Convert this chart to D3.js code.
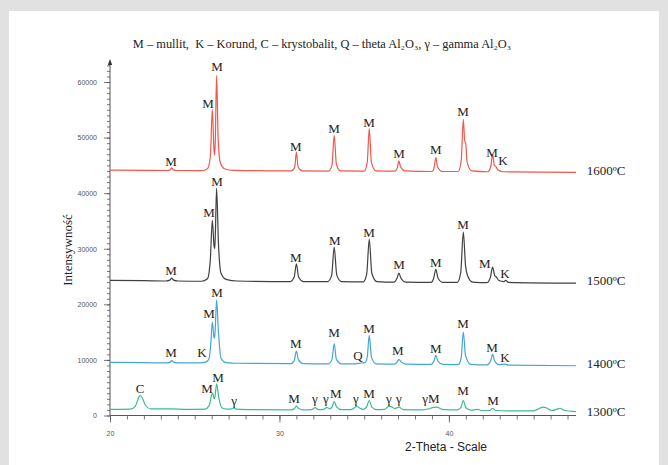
<!DOCTYPE html>
<html>
<head>
<meta charset="utf-8">
<script src="https://cdn.jsdelivr.net/npm/d3@7"></script>
<style>
  html, body { margin: 0; padding: 0; background: #e1e1e1; }
  svg { display: block; }
</style>
</head>
<body>
<svg id="chart" width="668" height="465"></svg>
<script>
// ---------- DATA ----------
const seriesNames = ["1600ºC", "1500ºC", "1400ºC", "1300ºC"];

// [2-theta, intensity]
const series1600 = [
  [20.0,44150],[22.0,44100],[23.35,44080],[23.55,44200],[23.64,44550],[23.73,44200],[23.95,44080],
  [25.4,44050],[25.75,44400],[25.92,46500],[26.04,55100],[26.13,48000],[26.17,46800],[26.21,49000],
  [26.29,61200],[26.38,50000],[26.5,45600],[26.75,44400],[27.3,44100],[30.7,44000],[30.9,44700],
  [31.0,47400],[31.1,44700],[31.35,44000],[32.9,43980],[33.1,45000],[33.23,50400],[33.36,45200],
  [33.6,44000],[35.0,43980],[35.18,45500],[35.3,51600],[35.43,45500],[35.7,44000],[36.8,43950],
  [36.96,44600],[37.05,45800],[37.15,44700],[37.4,44000],[39.0,43900],[39.13,44700],[39.23,46400],
  [39.33,44700],[39.6,43900],[40.55,43900],[40.73,46000],[40.85,53300],[40.93,49500],[40.99,49000],
  [41.08,45500],[41.35,44000],[42.3,43850],[42.47,44800],[42.58,47000],[42.68,45000],[42.77,44800],
  [42.88,44200],[43.2,43850],[47.5,43750]
];
const series1500 = [
  [20.0,24300],[22.0,24250],[23.3,24200],[23.53,24350],[23.64,24700],[23.75,24350],[24.0,24200],
  [25.4,24150],[25.75,24600],[25.92,28000],[26.04,35100],[26.14,30500],[26.18,30000],[26.22,33000],
  [26.29,40900],[26.4,31000],[26.55,25600],[26.85,24500],[27.5,24200],[30.65,24100],[30.87,24900],
  [31.0,27300],[31.13,24900],[31.4,24100],[32.85,24100],[33.08,25200],[33.23,30300],[33.38,25300],
  [33.65,24100],[34.95,24050],[35.15,25500],[35.3,31700],[35.45,25600],[35.75,24100],[36.75,24000],
  [36.94,24700],[37.05,25600],[37.17,24700],[37.45,24000],[38.95,23950],[39.1,24700],[39.23,26300],
  [39.36,24700],[39.65,23950],[40.5,23950],[40.7,25800],[40.85,33000],[40.98,27000],[41.1,25200],
  [41.4,24000],[42.25,23900],[42.45,24900],[42.58,26700],[42.7,25200],[42.8,24900],[42.95,24300],
  [43.25,24100],[43.36,24300],[43.5,23950],[47.5,23800]
];
const series1400 = [
  [20.0,9550],[22.0,9500],[23.35,9450],[23.55,9600],[23.64,9900],[23.75,9600],[24.0,9450],
  [25.3,9450],[25.7,9700],[25.85,10300],[25.95,13000],[26.04,16800],[26.13,14200],[26.17,13900],
  [26.21,15500],[26.29,20800],[26.4,15000],[26.55,10300],[26.85,9500],[27.5,9400],[30.7,9350],
  [30.88,10000],[31.0,11600],[31.12,10000],[31.4,9350],[32.9,9300],[33.1,10100],[33.23,12900],
  [33.36,10100],[33.65,9300],[34.5,9300],[34.8,9450],[35.05,9500],[35.18,10500],[35.3,14400],
  [35.43,10500],[35.7,9300],[36.8,9250],[36.96,9700],[37.05,10100],[37.17,9700],[37.45,9250],
  [38.95,9200],[39.12,9800],[39.23,10800],[39.35,9800],[39.65,9200],[40.55,9150],[40.72,10300],
  [40.85,15000],[40.98,10800],[41.3,9200],[42.25,9100],[42.46,9800],[42.58,11000],[42.7,9800],
  [42.95,9150],[43.3,9250],[43.5,9050],[47.5,8950]
];
const series1300 = [
  [20.0,1100],[21.2,1150],[21.5,1700],[21.7,3300],[21.77,3600],[21.9,3200],[22.1,1800],[22.4,1200],
  [23.6,1200],[24.5,1100],[25.6,1150],[25.85,1800],[26.0,3700],[26.06,4000],[26.15,3000],[26.2,3500],
  [26.29,5700],[26.42,3200],[26.6,1400],[26.9,1150],[27.2,1200],[27.3,1350],[27.45,1150],[28.5,1050],
  [30.7,1000],[30.9,1300],[31.0,1750],[31.12,1300],[31.4,1000],[31.9,1050],[32.1,1400],[32.3,1050],
  [32.6,1100],[32.8,1450],[32.95,1200],[33.1,1500],[33.23,2500],[33.38,1500],[33.65,1050],[34.2,1050],
  [34.45,1450],[34.55,1650],[34.7,1400],[34.95,1100],[35.15,1600],[35.3,2700],[35.45,1500],[35.75,1050],
  [36.2,1100],[36.45,1650],[36.6,1600],[36.8,1250],[37.05,1500],[37.3,1050],[38.4,1000],[38.8,1200],
  [39.1,1450],[39.3,1500],[39.6,1100],[40.5,1000],[40.7,1400],[40.85,2700],[41.0,1400],[41.3,950],
  [41.7,1100],[41.95,900],[42.4,900],[42.58,1300],[42.75,900],[43.5,850],[45.0,850],[45.35,1300],
  [45.55,1500],[45.8,1300],[46.05,900],[46.35,1100],[46.55,1300],[46.8,950],[47.5,700]
];

// Phase labels: [text, 2-theta, intensity of text baseline]
const labels1600 = [
  ["M",23.6,44900],["M",25.78,55300],["M",26.31,62000],["M",30.97,47600],["M",33.22,50800],
  ["M",35.28,51900],["M",37.05,46300],["M",39.23,47000],["M",40.83,53900],["M",42.54,46500],["K",43.19,45000]
];
const labels1500 = [
  ["M",23.6,25200],["M",25.84,35700],["M",26.31,41300],["M",30.97,27600],["M",33.27,30600],
  ["M",35.28,32100],["M",37.05,26300],["M",39.23,26700],["M",40.83,33500],["M",42.12,26500],["K",43.3,24700]
];
const labels1400 = [
  ["M",23.6,10450],["K",25.43,10450],["M",25.84,17500],["M",26.31,21300],["M",30.97,12100],
  ["M",33.22,14100],["Q",34.63,9900],["M",35.28,14800],["M",36.99,10800],["M",39.23,11200],
  ["M",40.83,15700],["M",42.54,11400],["K",43.3,9550]
];
const labels1300 = [
  ["C",21.77,4000],["M",25.72,4000],["M",26.37,6100],["γ",27.32,1800],["M",30.86,2200],
  ["γ",32.09,2200],["γ",32.74,2200],["M",33.33,3200],["γ",34.51,2200],["M",35.28,3200],
  ["γ",36.46,2200],["γ",37.05,2200],["γM",38.94,2300],["M",40.83,3600],["M",42.6,1800]
];

// Temperature labels: [2-theta of start, intensity of baseline]
const tempLabelPos = [[48.14,43200],[48.14,23400],[48.14,8500],[48.14,0]];

const yTickValues = [0,10000,20000,30000,40000,50000,60000];
const xTickValues = [20,30,40];

const titleText = "M – mullit,  K – Korund, C – krystobalit, Q – theta Al₂O₃, γ – gamma Al₂O₃";
const yTitle = "Intensywność";
const xTitle = "2-Theta - Scale";

// ---------- DRAWING ----------
const colors = ["#f0574e", "#404040", "#44a6d6", "#3dbd8d"];
const allSeries = [series1600, series1500, series1400, series1300];
const allLabels = [labels1600, labels1500, labels1400, labels1300];

const svg = d3.select("#chart");
svg.append("rect").attr("x",0).attr("y",0).attr("width",668).attr("height",465).attr("fill","#e1e1e1");
svg.append("rect").attr("x",9).attr("y",11).attr("width",650).attr("height",454).attr("fill","#ffffff");

const x = d3.scaleLinear().domain([20, 47.5]).range([110, 576]);
const y = d3.scaleLinear().domain([0, 60000]).range([415.5, 82]);

const serif = "'Liberation Serif', 'Times New Roman', serif";
const sans = "'Liberation Sans', Arial, sans-serif";

// Y axis minor ticks
const yMinor = d3.range(0, 64000, 1000);
const yAxisMinor = d3.axisLeft(y).tickValues(yMinor).tickSize(3).tickFormat("");
const gyMin = svg.append("g").attr("transform","translate(110,0)").call(yAxisMinor);
gyMin.select(".domain").remove();
gyMin.selectAll(".tick line").attr("stroke","#555").attr("stroke-width",0.8);

const yAxisMajor = d3.axisLeft(y).tickValues(yTickValues).tickSize(6).tickPadding(7).tickFormat(d => d);
const gy = svg.append("g").attr("transform","translate(110,0)").call(yAxisMajor);
gy.select(".domain").remove();
gy.selectAll(".tick line").attr("stroke","#555").attr("stroke-width",0.8);
gy.selectAll(".tick text").attr("font-family",sans).attr("font-size","7px").attr("fill","#555");

// Y axis line with arrow
svg.append("line").attr("x1",110).attr("x2",110).attr("y1",y(0)).attr("y2",62)
  .attr("stroke","#444").attr("stroke-width",0.9);
svg.append("path").attr("d","M110,59 L107.8,65 L112.2,65 Z").attr("fill","#333");

// X axis minor ticks
const xMinor = d3.range(20, 48, 1);
const xAxisMinor = d3.axisBottom(x).tickValues(xMinor).tickSize(4).tickFormat("");
const gxMin = svg.append("g").attr("transform",`translate(0,${y(0)})`).call(xAxisMinor);
gxMin.select(".domain").attr("stroke","#444").attr("stroke-width",0.9).attr("d", `M${x(20)},0H${x(47.5)}`);
gxMin.selectAll(".tick line").attr("stroke","#555").attr("stroke-width",0.8);

const xAxisMajor = d3.axisBottom(x).tickValues(xTickValues).tickSize(7).tickPadding(9).tickFormat(d => d);
const gx = svg.append("g").attr("transform",`translate(0,${y(0)})`).call(xAxisMajor);
gx.select(".domain").remove();
gx.selectAll(".tick line").attr("stroke","#555").attr("stroke-width",0.8);
gx.selectAll(".tick text").attr("font-family",sans).attr("font-size","7px").attr("fill","#555");

// Traces
const line = d3.line().x(d => x(d[0])).y(d => y(d[1])).curve(d3.curveMonotoneX);
allSeries.forEach((s, i) => {
  svg.append("path").datum(s).attr("d", line)
    .attr("fill","none").attr("stroke",colors[i]).attr("stroke-width",1.2);
});

// Phase labels
allLabels.forEach(lbls => {
  svg.append("g").selectAll("text").data(lbls).join("text")
    .attr("x", d => x(d[1])).attr("y", d => y(d[2]))
    .attr("text-anchor","middle")
    .attr("font-family",serif).attr("font-size","13px").attr("fill","#222")
    .text(d => d[0]);
});

// Temperature labels
svg.append("g").selectAll("text").data(tempLabelPos).join("text")
  .attr("x", d => x(d[0])).attr("y", d => y(d[1]))
  .attr("font-family",serif).attr("font-size","13px").attr("fill","#222")
  .text((d,i) => seriesNames[i]);

// Title
svg.append("text").attr("x",322).attr("y",48).attr("text-anchor","middle")
  .style("white-space","pre")
  .attr("font-family",serif).attr("font-size","12.4px").attr("fill","#222").text(titleText);

// Axis titles
svg.append("text").attr("transform","translate(72,250) rotate(-90)").attr("text-anchor","middle")
  .attr("font-family",serif).attr("font-size","13px").attr("fill","#222").text(yTitle);
svg.append("text").attr("x",446).attr("y",451).attr("text-anchor","middle")
  .attr("font-family",sans).attr("font-size","12px").attr("fill","#222").text(xTitle);
</script>
</body>
</html>
